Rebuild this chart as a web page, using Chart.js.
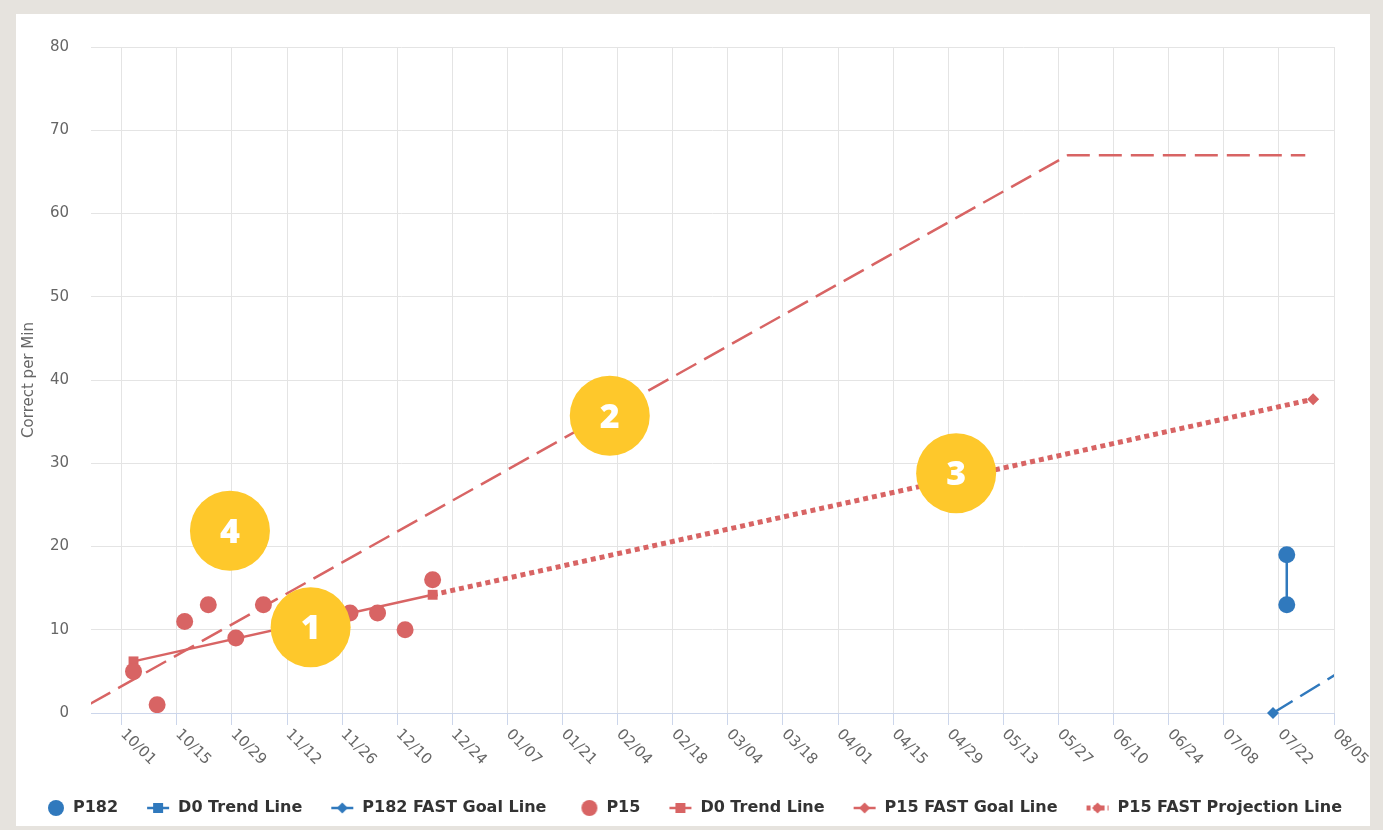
<!DOCTYPE html>
<html><head><meta charset="utf-8">
<script src="https://cdn.jsdelivr.net/npm/chart.js@4.4.0/dist/chart.umd.min.js"></script>
<style>
html,body{margin:0;padding:0;background:#e6e3de;width:1383px;height:830px;overflow:hidden}
#frame{position:absolute;left:16px;top:14px;width:1354px;height:812px;background:#fff}
#wrap{position:absolute;left:0;top:0;width:1383px;height:830px}
</style></head><body>
<div id="frame"></div>
<div id="wrap"><canvas id="c" width="1383" height="830"></canvas></div>
<script>
// ---- data (x = days since 10/01) ----
const xTickLabels = ['10/01','10/15','10/29','11/12','11/26','12/10','12/24','01/07','01/21','02/04','02/18','03/04','03/18','04/01','04/15','04/29','05/13','05/27','06/10','06/24','07/08','07/22','08/05'];
const xTickDays = [0,14,28,42,56,70,84,98,112,126,140,154,168,182,196,210,224,238,252,266,280,294,308];
const yTickValues = [0,10,20,30,40,50,60,70,80];

const p182Days = [296, 296];
const p182Values = [19, 13];
const p182TrendDays = [296, 296];
const p182TrendValues = [19, 13];
const p182GoalDays = [292.5, 330];
const p182GoalValues = [0, 10.9];

const p15Days = [3, 9, 16, 22, 29, 36, 58, 65, 72, 79];
const p15Values = [5, 1, 11, 13, 9, 13, 12, 12, 10, 16];
const p15TrendDays = [3, 79];
const p15TrendValues = [6.2, 14.2];
const p15GoalDays = [-8, 240.4, 300.7];
const p15GoalValues = [1.1, 67, 67];
const p15ProjDays = [79, 302.7];
const p15ProjValues = [14.2, 37.7];

const badgeDays = [48, 124, 212, 27.5];
const badgeValues = [10.3, 35.7, 28.8, 21.9];
const badgeLabels = ['1', '2', '3', '4'];

const BLUE = '#3079bd';
const RED = '#d86464';
const GOLD = '#fec82b';

const pts = (xs, ys) => xs.map((x, i) => ({x: x, y: ys[i]}));

function sym(kind, color) {
  const c = document.createElement('canvas'); c.width = 24; c.height = 16;
  const g = c.getContext('2d'); g.fillStyle = color; g.strokeStyle = color;
  const cx = 12, cy = 8;
  if (kind === 'circle') { g.beginPath(); g.arc(cx + 3, cy, 8, 0, 2 * Math.PI); g.fill(); }
  else {
    g.lineWidth = kind === 'proj' ? 5 : 2.5;
    if (kind === 'proj') g.setLineDash([4, 3]);
    g.beginPath(); g.moveTo(1, cy); g.lineTo(23, cy); g.stroke(); g.setLineDash([]);
    if (kind === 'square') g.fillRect(cx - 5, cy - 5, 10, 10);
    else { g.beginPath(); g.moveTo(cx, cy - 5.5); g.lineTo(cx + 5.5, cy); g.lineTo(cx, cy + 5.5); g.lineTo(cx - 5.5, cy); g.closePath(); g.fill(); }
  }
  return c;
}

const legendSymbols = [sym('circle', BLUE), sym('square', BLUE), sym('diamond', BLUE), sym('circle', RED), sym('square', RED), sym('diamond', RED), sym('proj', RED)];

const datasets = [
  {label: 'P182', data: pts(p182Days, p182Values), showLine: false, pointRadius: 8.5, backgroundColor: BLUE, borderWidth: 0, order: 1},
  {label: 'D0 Trend Line', data: pts(p182TrendDays, p182TrendValues), showLine: true, borderColor: BLUE, borderWidth: 2.5, pointStyle: 'rect', pointRadius: 6, backgroundColor: BLUE, pointBorderWidth: 0, order: 2},
  {label: 'P182 FAST Goal Line', data: pts(p182GoalDays, p182GoalValues), showLine: true, borderColor: BLUE, borderWidth: 2.5, borderDash: [23, 9], pointStyle: 'rectRot', pointRadius: [6, 0], backgroundColor: BLUE, pointBorderWidth: 0, order: 4, clip: {left: 0, top: 0, right: 0, bottom: 10}},
  {label: 'P15', data: pts(p15Days, p15Values), showLine: false, pointRadius: 8.5, backgroundColor: RED, borderWidth: 0, order: 1},
  {label: 'D0 Trend Line', data: pts(p15TrendDays, p15TrendValues), showLine: true, borderColor: RED, borderWidth: 2.5, pointStyle: 'rect', pointRadius: 7, backgroundColor: RED, pointBorderWidth: 0, order: 2},
  {label: 'P15 FAST Goal Line', data: pts(p15GoalDays, p15GoalValues), showLine: true, borderColor: RED, borderWidth: 2.5, borderDash: [23, 9], pointRadius: 0, order: 4},
  {label: 'P15 FAST Projection Line', data: pts(p15ProjDays, p15ProjValues), showLine: true, borderColor: RED, borderWidth: 5, borderDash: [5, 4], pointStyle: 'rectRot', pointRadius: [0, 6], backgroundColor: RED, pointBorderWidth: 0, order: 3},
  {label: 'badges', data: pts(badgeDays, badgeValues), showLine: false, pointRadius: 40, backgroundColor: GOLD, borderWidth: 0, order: 0, clip: false}
];
datasets.forEach(d => { d.xAxisID = 'x'; d.yAxisID = 'y'; });
const BADGE_INDEX = 7;

const overlay = {
  id: 'overlay',
  afterDatasetsDraw(chart) {
    const ctx = chart.ctx;
    const meta = chart.getDatasetMeta(BADGE_INDEX);
    ctx.save();
    ctx.fillStyle = '#fff';
    ctx.font = '800 34px "Open Sans"';
    ctx.textAlign = 'center';
    ctx.textBaseline = 'alphabetic';
    meta.data.forEach((p, i) => ctx.fillText(badgeLabels[i], p.x, p.y + 12));
    ctx.restore();
  },
  afterDraw(chart) {
    const ctx = chart.ctx, xs = chart.scales.x, bottom = chart.chartArea.bottom;
    ctx.save();
    ctx.font = '15px "DejaVu Sans"';
    ctx.fillStyle = '#666';
    ctx.textAlign = 'left';
    ctx.textBaseline = 'middle';
    xTickDays.forEach((d, i) => {
      const px = xs.getPixelForValue(d);
      ctx.save();
      ctx.translate(px + 1, bottom + 19);
      ctx.rotate(Math.PI / 4);
      ctx.fillText(xTickLabels[i], 0, 0);
      ctx.restore();
    });
    ctx.restore();
  }
};

new Chart(document.getElementById('c'), {
  type: 'scatter',
  data: {datasets: datasets},
  options: {
    responsive: false, animation: false, devicePixelRatio: 1, events: [],
    layout: {padding: {top: 47, left: 0, right: 0, bottom: 4}},
    plugins: {
      tooltip: {enabled: false},
      legend: {
        position: 'bottom',
        labels: {
          usePointStyle: true, pointStyleWidth: 24, padding: 28, color: '#333',
          font: {family: 'DejaVu Sans', size: 16, weight: 'bold'},
          generateLabels: (chart) => chart.data.datasets.map((ds, i) => ({
            text: ds.label, pointStyle: legendSymbols[i], datasetIndex: i, hidden: false,
            fontColor: '#333', lineWidth: 0, strokeStyle: 'rgba(0,0,0,0)', fillStyle: 'rgba(0,0,0,0)'
          })).filter(it => it.datasetIndex !== BADGE_INDEX)
        }
      }
    },
    scales: {
      x: {
        type: 'linear', position: 'bottom', min: -7.8, max: 308,
        afterBuildTicks: (s) => { s.ticks = xTickDays.map(v => ({value: v})); },
        afterFit: (s) => { s.height = 59; },
        ticks: {display: false},
        grid: {color: '#e4e4e4', lineWidth: 1, drawTicks: true, tickLength: 12, tickColor: '#ccd6eb'},
        border: {display: true, color: '#ccd6eb', width: 1}
      },
      y: {
        type: 'linear', position: 'left', min: 0, max: 80,
        afterBuildTicks: (s) => { s.ticks = yTickValues.map(v => ({value: v})); },
        afterFit: (s) => { s.width = 91; },
        ticks: {color: '#666', padding: 22, font: {family: 'DejaVu Sans', size: 15}},
        grid: {color: '#e4e4e4', lineWidth: 1, drawTicks: false},
        border: {display: false},
        title: {display: true, text: 'Correct per Min', color: '#666', font: {family: 'DejaVu Sans', size: 15}, padding: {top: 20, bottom: 0}}
      },
      yR: {
        type: 'linear', position: 'right', display: true,
        afterFit: (s) => { s.width = 49; },
        ticks: {display: false},
        grid: {display: false, drawTicks: false},
        border: {display: false}
      }
    }
  },
  plugins: [overlay]
});
</script>
</body></html>
